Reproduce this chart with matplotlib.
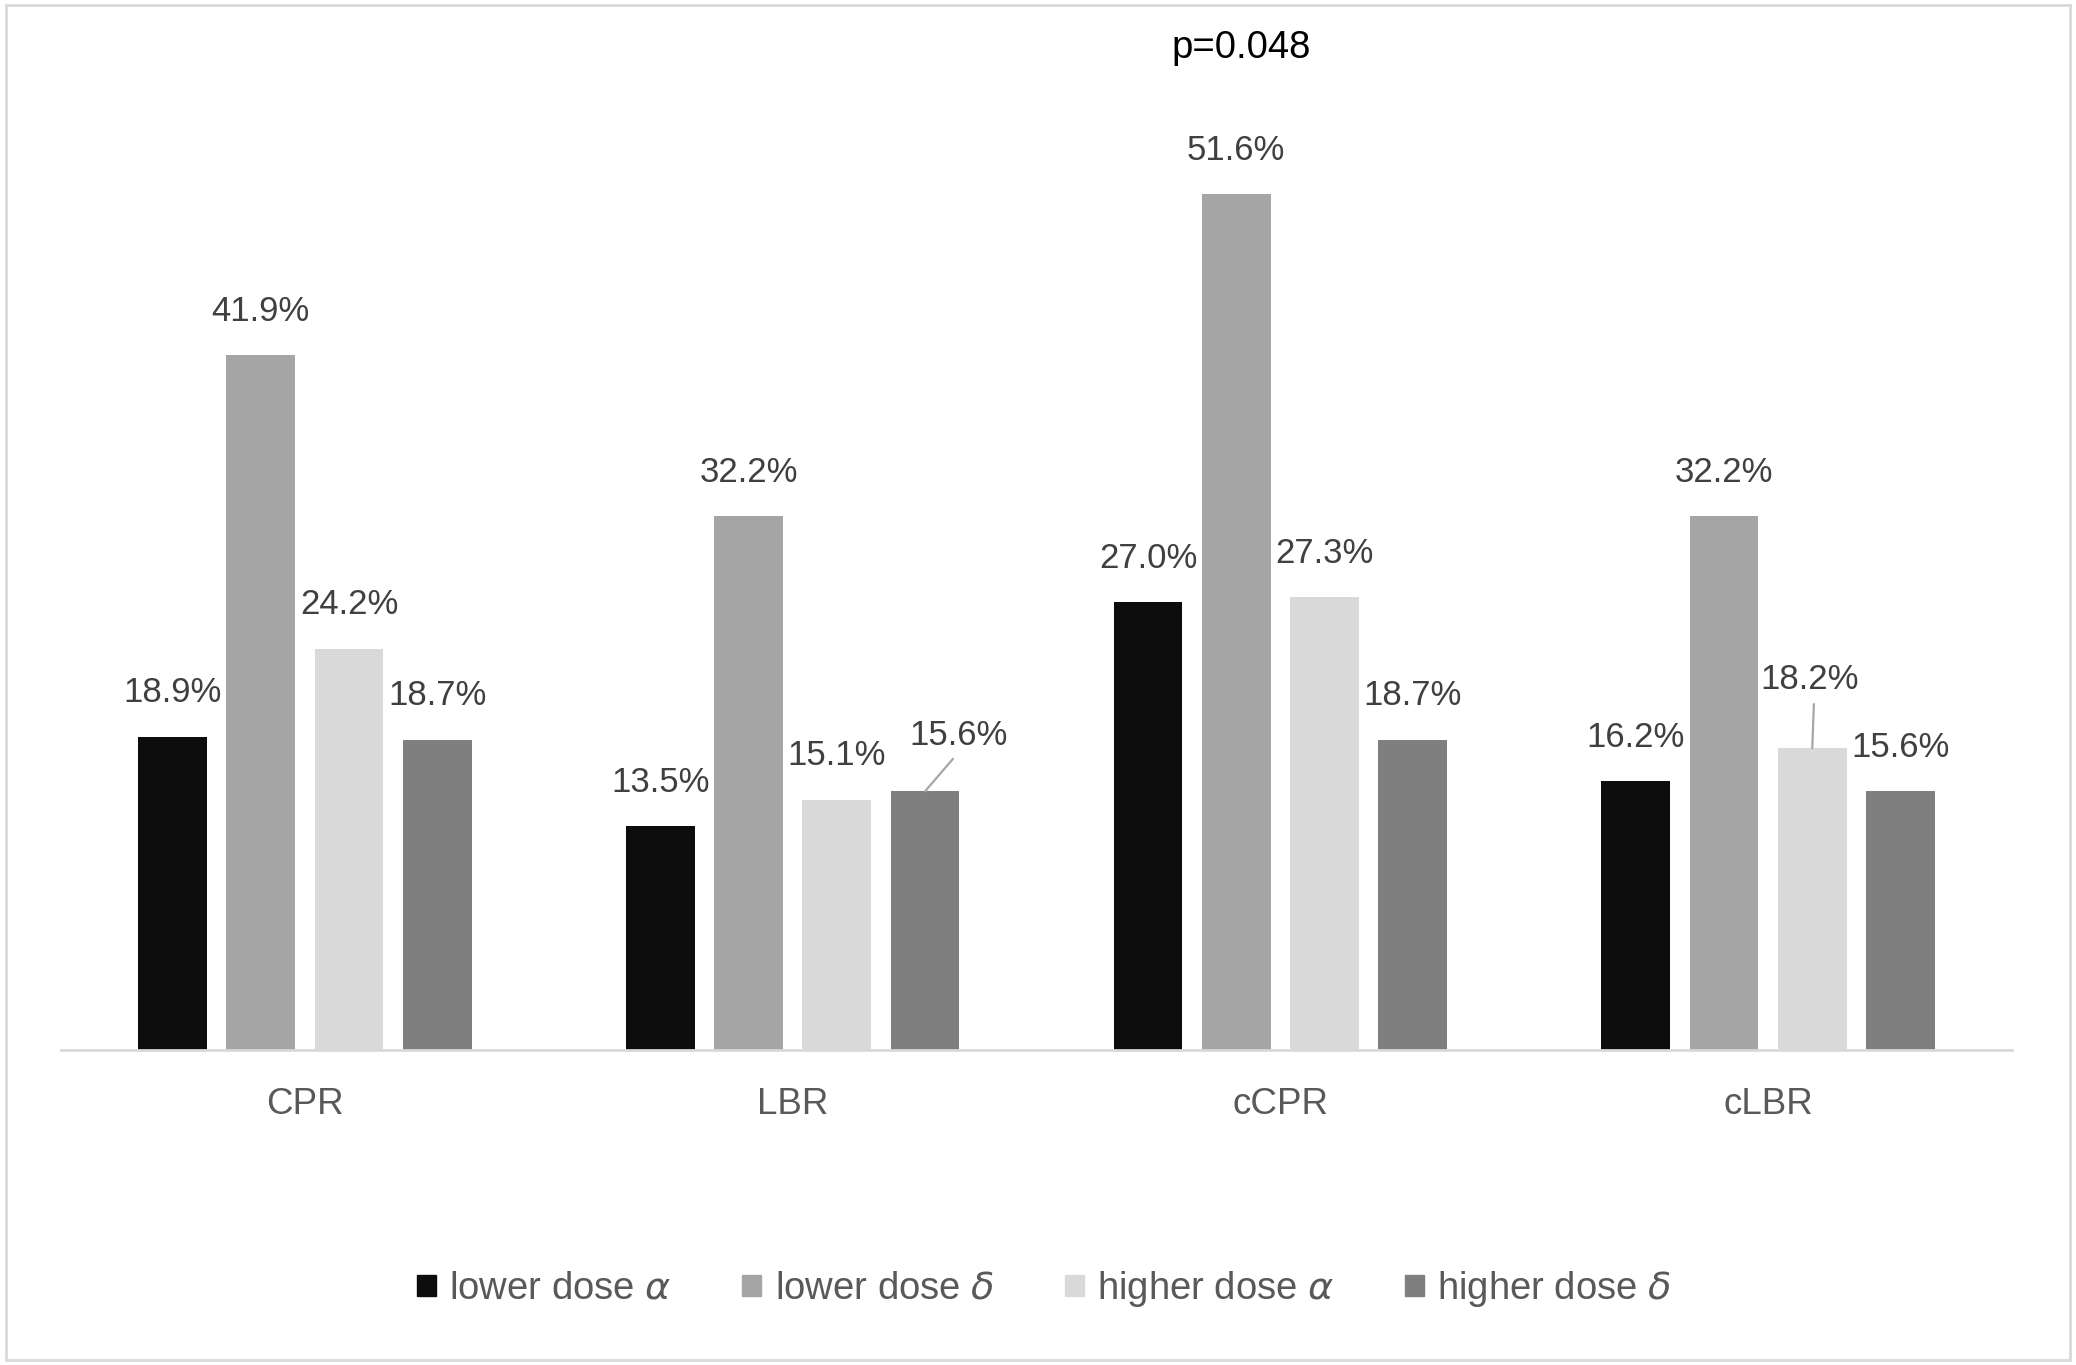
import matplotlib
matplotlib.use("Agg")
import matplotlib.pyplot as plt
from matplotlib.patches import Rectangle, Patch
import numpy as np

plt.rcParams['font.family'] = ['Liberation Sans', 'DejaVu Sans']

# data (percent)
categories = ['CPR', 'LBR', 'cCPR', 'cLBR']
series_names = [r'lower dose $\alpha$', r'lower dose $\delta$',
                r'higher dose $\alpha$', r'higher dose $\delta$']
lower_alpha = [18.9, 13.5, 27.0, 16.2]
lower_delta = [41.9, 32.2, 51.6, 32.2]
higher_alpha = [24.2, 15.1, 27.3, 18.2]
higher_delta = [18.7, 15.6, 18.7, 15.6]
colors = ['#0d0d0d', '#a5a5a5', '#d9d9d9', '#7f7f7f']
p_text = 'p=0.048'

all_series = [lower_alpha, lower_delta, higher_alpha, higher_delta]

# label offsets in pixels (dx, dy); default is straight above the bar
default_off = (0, 44)
special_off = {(3, 1): (34, 56, 0.5), (2, 3): (-3, 69, 0.55)}

fig = plt.figure(figsize=(20.76, 13.65), dpi=100)
ax = fig.add_axes([61 / 2076, 315 / 1365, 1951 / 2076, 995 / 1365])

x = np.arange(len(categories))
width = 0.141
step = 0.181

for i, vals in enumerate(all_series):
    xs = x + (i - 1.5) * step
    ax.bar(xs, vals, width, color=colors[i], label=series_names[i], zorder=2)
    for j, v in enumerate(vals):
        if (i, j) in special_off:
            dx, dy, rx = special_off[(i, j)]
            ax.annotate(f'{v:.1f}%', xy=(xs[j], v), xytext=(dx, dy),
                        textcoords='offset pixels', ha='center', va='center',
                        fontsize=25, color='#404040',
                        arrowprops=dict(arrowstyle='-', color='#a6a6a6', lw=1.6,
                                        shrinkA=4, shrinkB=0, relpos=(rx, 0)))
        else:
            ax.annotate(f'{v:.1f}%', xy=(xs[j], v), xytext=default_off,
                        textcoords='offset pixels', ha='center', va='center',
                        fontsize=25, color='#404040')

ax.text(1.92, 60.4, p_text, ha='center', va='center', fontsize=27.5,
        color='black', clip_on=False)

ax.set_xlim(-0.5, 3.5)
ax.set_ylim(0, 60)
ax.set_xticks(x)
ax.set_xticklabels(categories, fontsize=26.5, color='#595959')
ax.tick_params(axis='x', length=0, pad=27)
ax.set_yticks([])
for s in ['top', 'left', 'right']:
    ax.spines[s].set_visible(False)
ax.spines['bottom'].set_color('#d9d9d9')
ax.spines['bottom'].set_linewidth(2)

handles = [Patch(color=c) for c in colors]
leg = fig.legend(handles, series_names, loc='center', bbox_to_anchor=(0.503, 0.0557),
                 ncol=4, frameon=False, handlelength=0.5, handleheight=0.5,
                 handletextpad=0.35, columnspacing=1.85,
                 prop=dict(family=['Liberation Sans Narrow', 'Liberation Sans'], size=27.5))
for t in leg.get_texts():
    t.set_color('#595959')

fig.patches.append(Rectangle((0.003, 0.004), 0.994, 0.992, fill=False,
                             edgecolor='#d9d9d9', lw=2, transform=fig.transFigure))

fig.savefig('out.png', dpi=100)
